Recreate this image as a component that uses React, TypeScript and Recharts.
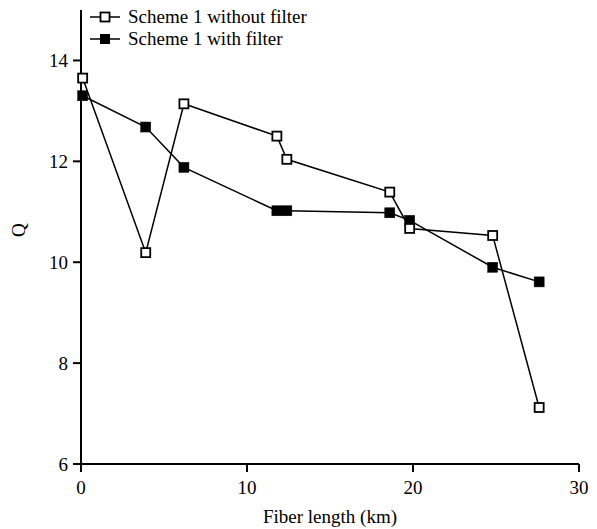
import { LineChart, Line, XAxis, YAxis, Legend } from 'recharts'

const fiberLength = [0.1, 3.9, 6.2, 11.8, 12.4, 18.6, 19.8, 24.8, 27.6]
const qWithoutFilter = [13.65, 10.19, 13.14, 12.5, 12.04, 11.39, 10.67, 10.53, 7.12]
const qWithFilter = [13.3, 12.68, 11.88, 11.02, 11.02, 10.98, 10.83, 9.9, 9.61]

const xTicks = [0, 10, 20, 30]
const yTicks = [6, 8, 10, 12, 14]

const seriesNames = ['Scheme 1 without filter', 'Scheme 1 with filter']

const data = fiberLength.map((x, i) => ({
  x,
  without: qWithoutFilter[i],
  with: qWithFilter[i],
}))

const FONT = "'Liberation Serif', 'Times New Roman', serif"

const openSquare = (props: any) => {
  const { cx, cy, index } = props
  return <rect key={`o-${index}`} x={cx - 4.5} y={cy - 4.5} width={9} height={9} fill="#fff" stroke="#000" strokeWidth={1.8} />
}

const filledSquare = (props: any) => {
  const { cx, cy, index } = props
  return <rect key={`f-${index}`} x={cx - 5} y={cy - 5} width={10} height={10} fill="#000" stroke="#000" strokeWidth={0.5} />
}

function LegendBox() {
  return (
    <div style={{ fontFamily: FONT, fontSize: 19, color: '#000' }}>
      {seriesNames.map((name, i) => (
        <div key={name} style={{ display: 'flex', alignItems: 'center', height: 22.5 }}>
          <svg width={30} height={14} style={{ marginRight: 8 }}>
            <line x1={0} y1={7} x2={30} y2={7} stroke="#000" strokeWidth={1.5} />
            {i === 0 ? (
              <rect x={10.5} y={2.5} width={9} height={9} fill="#fff" stroke="#000" strokeWidth={1.8} />
            ) : (
              <rect x={10} y={2} width={10} height={10} fill="#000" />
            )}
          </svg>
          <span>{name}</span>
        </div>
      ))}
    </div>
  )
}

export default function App() {
  return (
    <div style={{ margin: '-8px 0 0 -8px', width: 597, height: 529, background: '#fff' }}>
      <LineChart width={597} height={529} data={data} margin={{ top: 10, right: 18, left: 0, bottom: 0 }}>
        <XAxis
          dataKey="x"
          type="number"
          domain={[0, 30]}
          ticks={xTicks}
          height={65}
          stroke="#000"
          strokeWidth={2}
          tickSize={8}
          tickMargin={9}
          tick={{ fill: '#000', fontSize: 19, fontFamily: FONT }}
          label={{ value: 'Fiber length (km)', position: 'insideBottom', offset: 6, fill: '#000', fontSize: 19, fontFamily: FONT }}
        />
        <YAxis
          type="number"
          domain={[6, 15]}
          ticks={yTicks}
          width={81}
          stroke="#000"
          strokeWidth={2}
          tickSize={8}
          tickMargin={5}
          tick={{ fill: '#000', fontSize: 19, fontFamily: FONT }}
          label={{ value: 'Q', angle: -90, position: 'insideLeft', offset: 18, fill: '#000', fontSize: 19, fontFamily: FONT }}
        />
        <Legend
          layout="horizontal"
          verticalAlign="middle"
          align="center"
          content={() => <LegendBox />}
          wrapperStyle={{ left: 90, top: 5.5, width: 'auto' }}
        />
        <Line dataKey="with" stroke="#000" strokeWidth={1.5} dot={filledSquare} isAnimationActive={false} />
        <Line dataKey="without" stroke="#000" strokeWidth={1.5} dot={openSquare} isAnimationActive={false} />
      </LineChart>
    </div>
  )
}
